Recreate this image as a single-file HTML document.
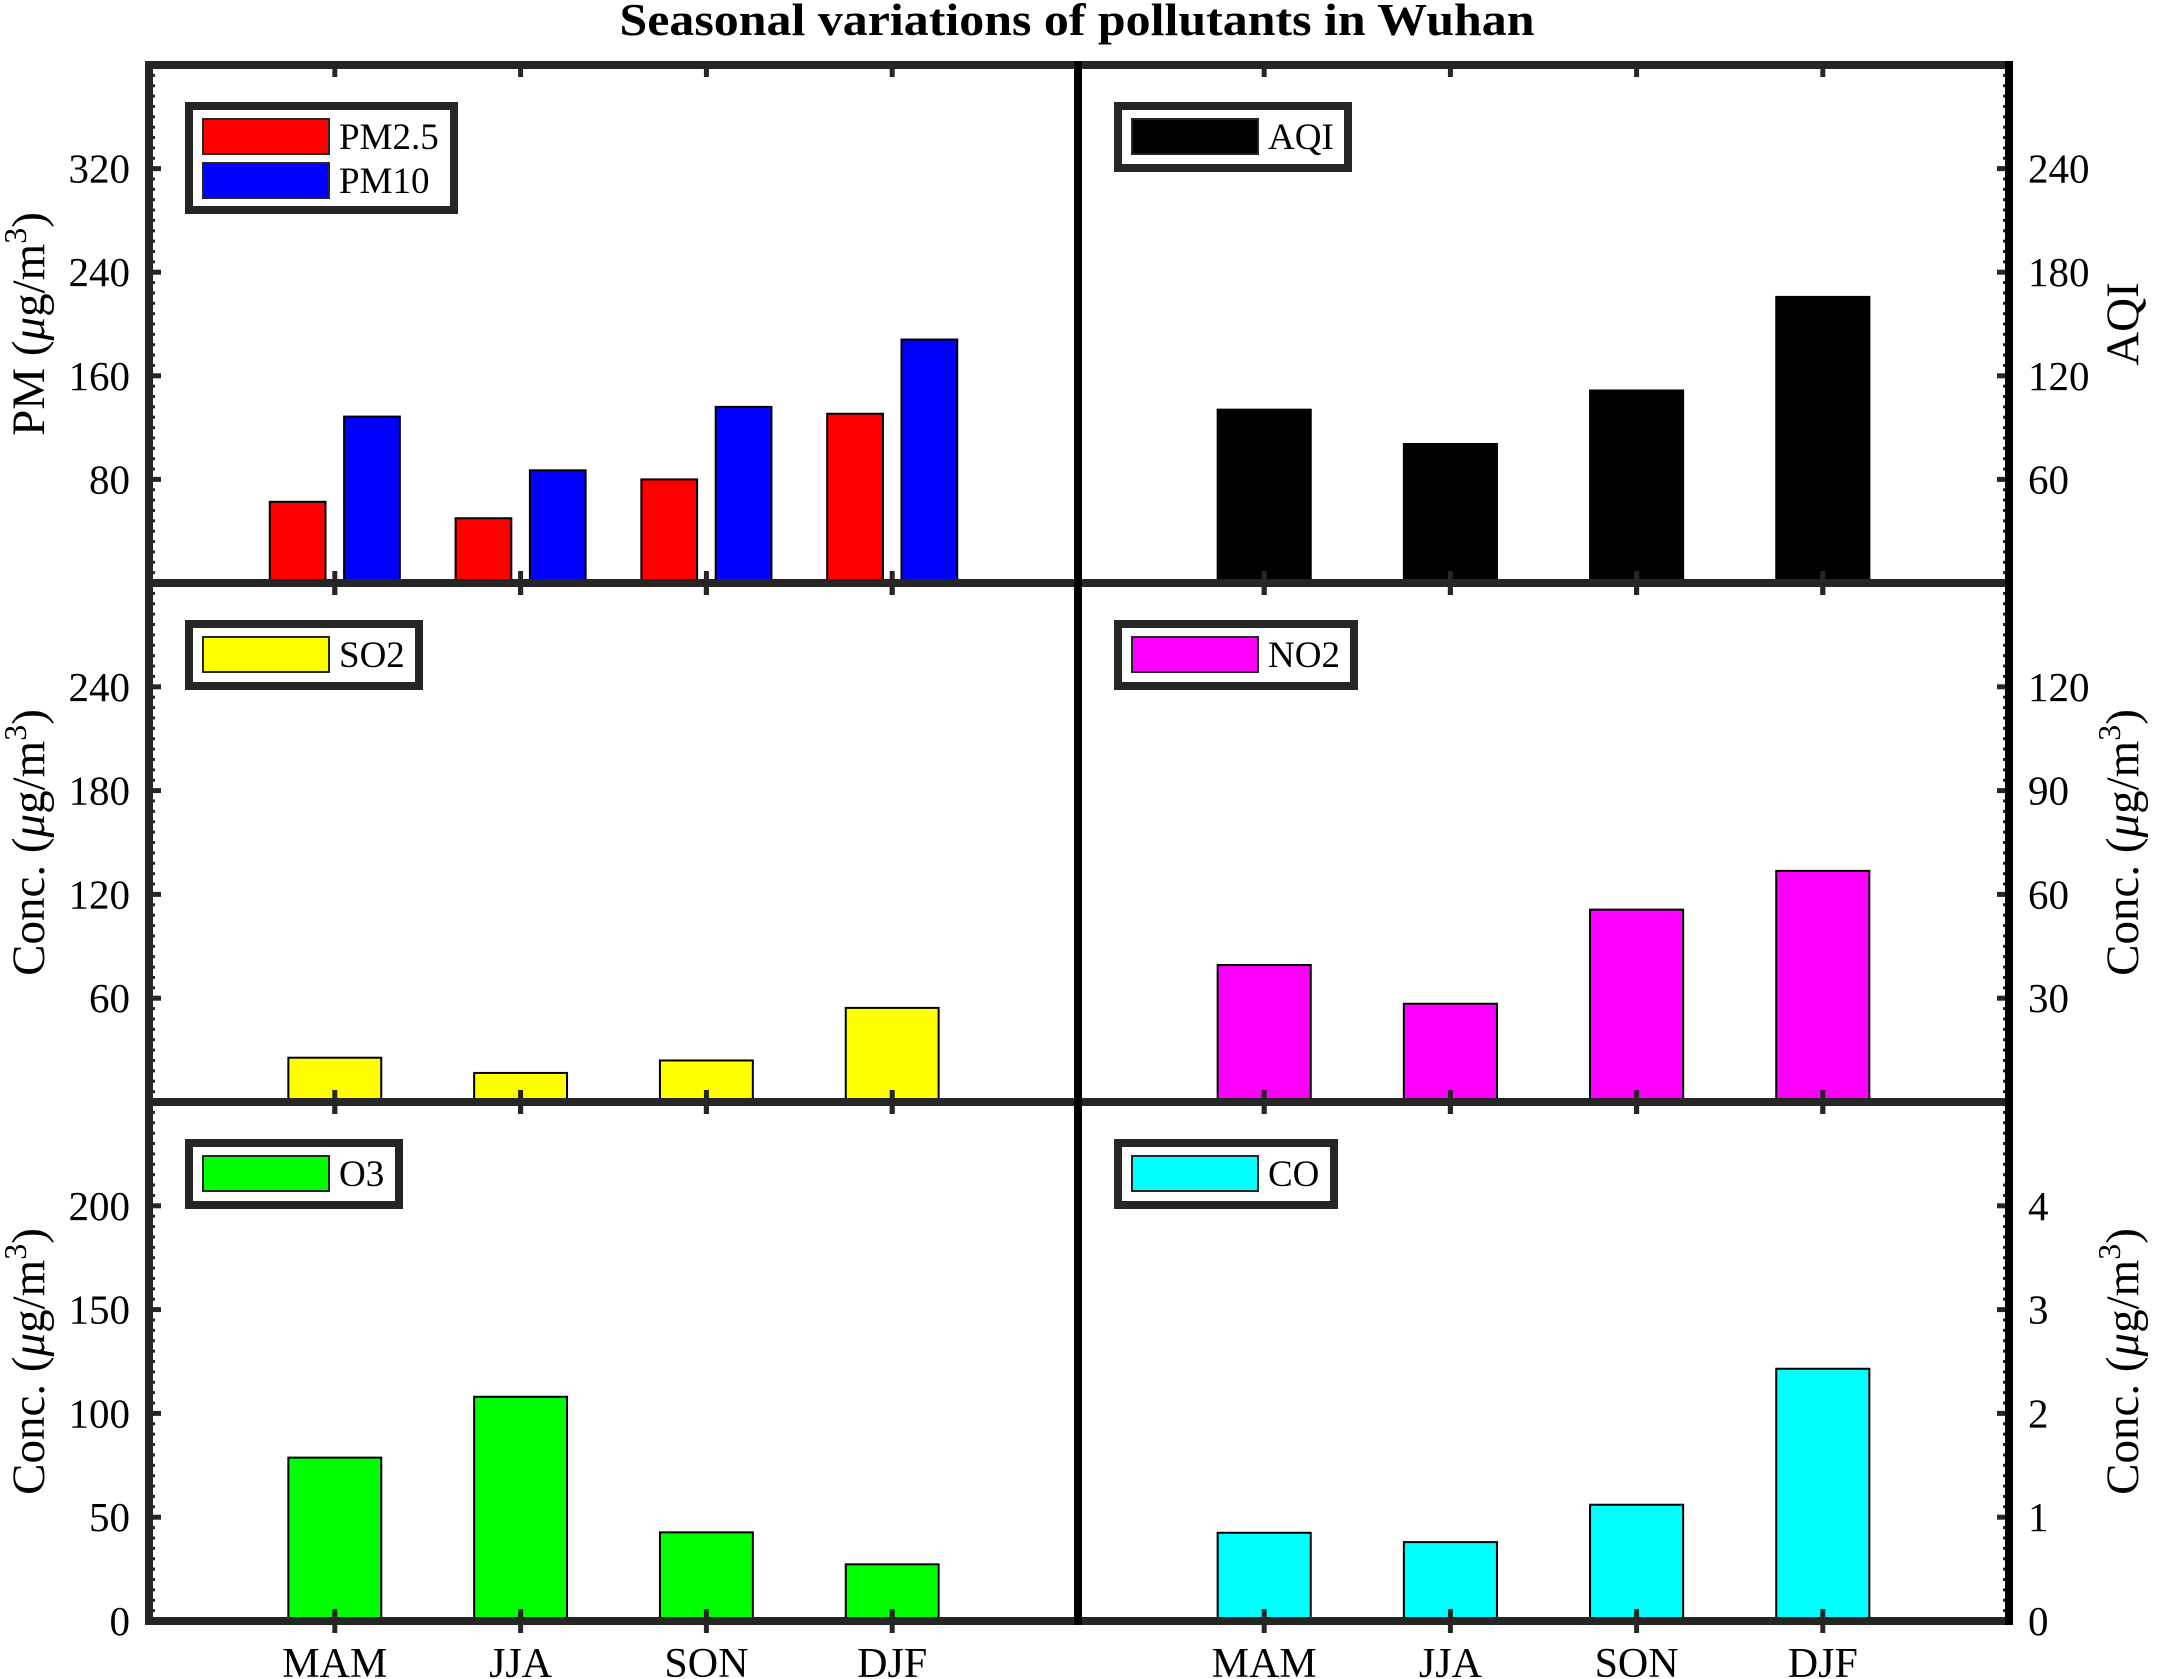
<!DOCTYPE html>
<html><head><meta charset="utf-8"><style>
html,body{margin:0;padding:0;background:#fff}
svg{display:block}
text{font-family:"Liberation Serif",serif;fill:#000}
</style></head><body>
<svg id="fig" width="2168" height="1679" viewBox="0 0 2168 1679" xmlns="http://www.w3.org/2000/svg" font-family="Liberation Serif, serif">
<text x="1077" y="35" text-anchor="middle" font-size="46" font-weight="bold" textLength="915" lengthAdjust="spacingAndGlyphs">Seasonal variations of pollutants in Wuhan</text>
</svg>
<script>
const categories = ["MAM","JJA","SON","DJF"];
const pm25 = [62.7, 50, 80, 130.7];
const pm10 = [128.5, 87, 136, 188];
const aqi = [100.4, 80.5, 111.5, 165.7];
const so2 = [25.6, 16.8, 24, 54.4];
const no2 = [39.6, 28.4, 55.6, 66.8];
const o3 = [78.7, 108, 42.7, 27.3];
const co = [0.85, 0.76, 1.12, 2.43];
const pmTicks = [80,160,240,320];
const aqiTicks = [60,120,180,240];
const so2Ticks = [60,120,180,240];
const no2Ticks = [30,60,90,120];
const o3Ticks = [0,50,100,150,200];
const coTicks = [0,1,2,3,4];

const NS="http://www.w3.org/2000/svg";
const svg=document.getElementById('fig');
const XL=[149,1078], XR=[1078,2009], YS=[65,583,1102,1621];
function mk(tag,attrs,parent){const e=document.createElementNS(NS,tag);for(const k in attrs)e.setAttribute(k,attrs[k]);(parent||svg).appendChild(e);return e;}

const panels=[
 {col:0,row:0,ymax:400,ticks:pmTicks,series:[{v:pm25,c:"#ff0000",n:"PM2.5"},{v:pm10,c:"#0000ff",n:"PM10"}],side:"left",label:"PM",legW:265,legH:104},
 {col:1,row:0,ymax:300,ticks:aqiTicks,series:[{v:aqi,c:"#000000",n:"AQI"}],side:"right",label:"AQI",legW:230},
 {col:0,row:1,ymax:300,ticks:so2Ticks,series:[{v:so2,c:"#ffff00",n:"SO2"}],side:"left",label:"conc",legW:230},
 {col:1,row:1,ymax:150,ticks:no2Ticks,series:[{v:no2,c:"#ff00ff",n:"NO2"}],side:"right",label:"conc",legW:236},
 {col:0,row:2,ymax:250,ticks:o3Ticks,series:[{v:o3,c:"#00ff00",n:"O3"}],side:"left",label:"conc",legW:210},
 {col:1,row:2,ymax:5,ticks:coTicks,series:[{v:co,c:"#00ffff",n:"CO"}],side:"right",label:"conc",legW:216}
];

panels.forEach((p,pi)=>{
  const [x0,x1]=p.col?XR:XL; const y0=YS[p.row], y1=YS[p.row+1];
  const g=mk('g',{});
  
  
  const xs=v=>x0+(x1-x0)*v/5;
  const ys=v=>y1-(y1-y0)*v/p.ymax;
  const unit=(x1-x0)/5;
  const ns=p.series.length;
  categories.forEach((c,i)=>{
    p.series.forEach((s,si)=>{
      let w,cx;
      if(ns===1){w=0.5*unit;cx=xs(i+1);}else{w=0.3*unit;cx=xs(i+1)+(si===0?-0.2:0.2)*unit;}
      const r=mk('rect',{x:cx-w/2,y:ys(s.v[i]),width:w,height:y1-ys(s.v[i]),fill:s.c,stroke:"#000","stroke-width":2},g);
      
      
    });
    mk('line',{x1:xs(i+1),x2:xs(i+1),y1:y1-12,y2:y1+12,stroke:"#262626","stroke-width":5},g);
    mk('line',{x1:xs(i+1),x2:xs(i+1),y1:y0-3,y2:y0+12,stroke:"#262626","stroke-width":5},g);
  });
  const ax=p.side==="left"?x0:x1, dir=p.side==="left"?1:-1;
  const step=p.ticks.length>1?p.ticks[1]-p.ticks[0]:p.ymax;
  for(let k=0;k*step/10<=p.ymax+1e-9;k++){
    const v=k*step/10; if(k%10===0)continue;
    mk('line',{x1:ax-dir*4,x2:ax+dir*6,y1:ys(v),y2:ys(v),stroke:"#262626","stroke-width":3},g);
  }
  p.ticks.forEach(t=>{
    mk('line',{x1:ax,x2:ax+dir*12,y1:ys(t),y2:ys(t),stroke:"#262626","stroke-width":5},g);
    const tx=mk('text',{x:p.side==="left"?x0-19:x1+19,y:ys(t)+14,"text-anchor":p.side==="left"?"end":"start","font-size":41,"font-family":"Liberation Serif, serif"},g);
    tx.textContent=t;
    
    
  });
  const lx=p.side==="left"?44:2138, ly=(y0+y1)/2;
  const lab=mk('text',{x:lx,y:ly,"text-anchor":"middle","font-size":47,"font-family":"Liberation Serif, serif",transform:`rotate(-90 ${lx} ${ly})`},g);
  if(p.label==="AQI"){lab.textContent="AQI";}
  else{
    lab.innerHTML=(p.label==="PM"?"PM (":"Conc. (")+'<tspan font-style="italic">μ</tspan>g/m<tspan baseline-shift="super" font-size="32">3</tspan>)';
  }
  
  
  const lgx=x0+40, lgy=y0+41, lh=p.legH||62;
  const lg=mk('g',{},g);
  
  
  mk('rect',{x:lgx,y:lgy,width:p.legW,height:lh,fill:"#fff",stroke:"#262626","stroke-width":8},lg);
  p.series.forEach((s,si)=>{
    const sy=lgy+13+si*44;
    mk('rect',{x:lgx+14,y:sy,width:126,height:35,fill:s.c,stroke:"#262626","stroke-width":2},lg);
    const t=mk('text',{x:lgx+150,y:sy+30,"font-size":37,"font-family":"Liberation Serif, serif"},lg);
    t.textContent=s.n;
    
    
  });
});
[[149,65,2009,65],[149,583,2009,583],[149,1102,2009,1102],[149,1621,2009,1621]].forEach(l=>{
  const e=mk('line',{x1:l[0]-4,y1:l[1],x2:l[2]+4,y2:l[3],stroke:"#262626","stroke-width":8});
  
  
});
[149,1078,2009].forEach(x=>{
  const e=mk('line',{x1:x,y1:61,x2:x,y2:1625,stroke:x===149?"#262626":"#000","stroke-width":8});
  
  
});
categories.forEach((c,i)=>{
  [XL,XR].forEach(X=>{
    const t=mk('text',{x:X[0]+(X[1]-X[0])*(i+1)/5,y:1677,"text-anchor":"middle","font-size":42,"font-family":"Liberation Serif, serif"});
    t.textContent=c;
    
    
  });
});
</script>
</body></html>
